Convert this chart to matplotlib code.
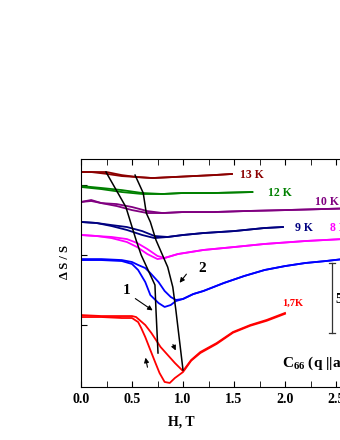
import matplotlib
matplotlib.use("Agg")
import matplotlib.pyplot as plt
from matplotlib.ticker import MultipleLocator

plt.rcParams['font.family'] = ['Liberation Serif', 'DejaVu Serif']
plt.rcParams['font.weight'] = 'bold'
plt.rcParams['mathtext.fontset'] = 'custom'
plt.rcParams['mathtext.rm'] = 'Liberation Serif:bold'
plt.rcParams['mathtext.bf'] = 'Liberation Serif:bold'

# field H (T) and dS/S (units of 1e-4, arbitrary offset), two sweeps per curve
x13 = [0, 0.1, 0.25, 0.4, 0.55, 0.7, 0.9, 1.1, 1.3, 1.48]
y13a = [15.93, 15.93, 15.93, 15.71, 15.57, 15.5, 15.57, 15.64, 15.71, 15.79]
y13b = [15.93, 15.93, 15.8, 15.64, 15.57, 15.5, 15.57, 15.64, 15.71, 15.79]

x12 = [0, 0.2, 0.4, 0.6, 0.8, 1.0, 1.3, 1.68]
y12a = [14.93, 14.79, 14.64, 14.43, 14.36, 14.43, 14.43, 14.5]
y12b = [14.86, 14.71, 14.5, 14.36, 14.36, 14.43, 14.43, 14.5]

x10 = [0, 0.1, 0.2, 0.35, 0.5, 0.65, 0.8, 1.0, 1.3, 1.6, 2.0, 2.4, 2.75]
y10a = [13.79, 13.93, 13.71, 13.5, 13.21, 13.0, 13.0, 13.07, 13.07, 13.14, 13.21, 13.29, 13.36]
y10b = [13.79, 13.86, 13.71, 13.64, 13.43, 13.14, 13.0, 13.07, 13.07, 13.14, 13.21, 13.29, 13.36]

x9 = [0, 0.15, 0.3, 0.45, 0.6, 0.72, 0.85, 1.0, 1.2, 1.5, 1.8, 1.98]
y9a = [12.36, 12.29, 12.07, 11.79, 11.43, 11.21, 11.29, 11.43, 11.57, 11.71, 11.93, 12.0]
y9b = [12.36, 12.29, 12.14, 12.0, 11.71, 11.36, 11.29, 11.43, 11.57, 11.71, 11.93, 12.0]

x8 = [0, 0.15, 0.3, 0.45, 0.55, 0.65, 0.75, 0.82, 0.95, 1.2, 1.5, 1.8, 2.2, 2.75]
y8a = [11.43, 11.36, 11.21, 10.93, 10.57, 10.07, 9.71, 9.79, 10.07, 10.36, 10.57, 10.79, 11.0, 11.21]
y8b = [11.43, 11.36, 11.29, 11.14, 10.86, 10.43, 9.93, 9.79, 10.07, 10.36, 10.57, 10.79, 11.0, 11.21]

x5 = [0, 0.2, 0.4, 0.5, 0.56, 0.63, 0.68, 0.76, 0.82, 0.88, 0.93, 1.0, 1.1, 1.2, 1.4, 1.6, 1.8, 2.0, 2.2, 2.4, 2.75]
y5a = [9.64, 9.64, 9.57, 9.36, 8.93, 8.07, 7.14, 6.57, 6.29, 6.43, 6.71, 6.86, 7.21, 7.43, 8.0, 8.5, 8.93, 9.21, 9.43, 9.57, 9.86]
y5b = [9.71, 9.71, 9.64, 9.5, 9.29, 9.07, 8.71, 8.07, 7.43, 7.0, 6.79, 6.86, 7.21, 7.43, 8.0, 8.5, 8.93, 9.21, 9.43, 9.57, 9.86]

x17a = [0, 0.2, 0.4, 0.5, 0.54, 0.63, 0.69, 0.78, 0.85, 0.92, 1.0, 1.08, 1.17, 1.33, 1.49, 1.66, 1.82, 2.0]
y17a = [5.71, 5.64, 5.64, 5.64, 5.57, 5.0, 4.43, 3.43, 2.86, 2.29, 1.71, 2.5, 3.07, 3.71, 4.5, 5.0, 5.36, 5.86]
x17b = [0, 0.2, 0.4, 0.5, 0.56, 0.59, 0.63, 0.68, 0.73, 0.77, 0.82, 0.87, 0.92, 1.0, 1.08, 1.17, 1.33, 1.49, 1.66, 1.82, 2.0]
y17b = [5.57, 5.57, 5.5, 5.5, 5.21, 4.79, 4.14, 3.21, 2.29, 1.57, 0.93, 0.86, 1.21, 1.64, 2.45, 3.0, 3.65, 4.45, 4.95, 5.3, 5.8]

# guide lines through the anomalies
line1_x = [0.245, 0.44, 0.54, 0.59, 0.725, 0.735, 0.755]
line1_y = [15.93, 13.43, 11.07, 10.0, 7.86, 6.07, 3.0]
line2_x = [0.53, 0.61, 0.64, 0.68, 0.735, 0.85, 0.90, 0.93, 1.0]
line2_y = [15.71, 14.43, 13.0, 12.36, 11.07, 9.14, 7.71, 6.07, 1.79]

curves = [
    (x13, y13a, x13, y13b, '#8b0000', '13 K', 1.56, 15.71),
    (x12, y12a, x12, y12b, '#008000', '12 K', 1.83, 14.43),
    (x10, y10a, x10, y10b, '#800080', '10 K', 2.29, 13.79),
    (x9, y9a, x9, y9b, '#000080', '9 K', 2.10, 11.93),
    (x8, y8a, x8, y8b, '#ff00ff', '8 K', 2.44, 11.93),
    (x5, y5a, x5, y5b, '#0000ff', None, 0, 0),
    (x17a, y17a, x17b, y17b, '#ff0000', '1,7K', 1.97, 6.57),
]

fig = plt.figure(figsize=(3.4, 4.4), dpi=100)
ax = fig.add_axes([81 / 340, 53 / 440, 280.5 / 340, 228 / 440])

for xa, ya, xb, yb, col, lab, lx, ly in curves:
    ax.plot(xa, ya, color=col, lw=1.3)
    ax.plot(xb, yb, color=col, lw=1.3)
    if lab:
        fs = 7.5 if lab == '1,7K' else 8.5
        ax.text(lx, ly, lab, color=col, fontsize=fs, fontweight='bold', va='center', ha='left')

ax.plot(line1_x, line1_y, color='black', lw=1.1)
ax.plot(line2_x, line2_y, color='black', lw=1.1)

# annotations 1 and 2
ax.text(0.45, 7.5, '1', fontsize=11, fontweight='bold', ha='center', va='center')
ax.annotate('', xy=(0.725, 5.93), xytext=(0.51, 7.0),
            arrowprops=dict(arrowstyle='-|>', color='black', lw=0.8, mutation_scale=7))
ax.text(1.19, 9.07, '2', fontsize=11, fontweight='bold', ha='center', va='center')
ax.annotate('', xy=(0.95, 7.86), xytext=(1.05, 8.79),
            arrowprops=dict(arrowstyle='-|>', color='black', lw=0.8, mutation_scale=7))

# sweep direction arrows
ax.annotate('', xy=(0.627, 2.86), xytext=(0.657, 1.79),
            arrowprops=dict(arrowstyle='-|>', color='black', lw=0.8, mutation_scale=7))
ax.annotate('', xy=(0.94, 3.0), xytext=(0.89, 3.79),
            arrowprops=dict(arrowstyle='-|>', color='black', lw=0.8, mutation_scale=7))

# scale bar
ax.plot([2.46, 2.46], [4.43, 9.43], color='#333333', lw=0.9)
ax.plot([2.43, 2.49], [9.43, 9.43], color='#333333', lw=0.9)
ax.plot([2.43, 2.49], [4.43, 4.43], color='#333333', lw=0.9)
ax.text(2.49, 6.9, r'5$\cdot$10$^{-4}$', fontsize=10, fontweight='bold', ha='left', va='center')

ax.text(1.97, 2.29, r'$\mathbf{C_{66}}$ (q ||a)', fontsize=11, fontweight='bold', ha='left', va='center')

ax.set_xlim(0, 2.75)
ax.set_ylim(0.571, 16.86)
ax.xaxis.set_major_locator(MultipleLocator(0.5))
ax.xaxis.set_minor_locator(MultipleLocator(0.25))
ax.yaxis.set_major_locator(MultipleLocator(5))
ax.set_yticklabels([])
ax.set_xticklabels(['%.1f' % v for v in ax.get_xticks()])
ax.tick_params(which='both', direction='in', top=True, right=True, labelsize=10, pad=4)
ax.tick_params(which='major', length=4)
ax.tick_params(which='minor', length=4)
for lbl in ax.get_xticklabels():
    lbl.set_fontweight('bold')

ax.set_xlabel('H, T', fontsize=10, fontweight='bold')
ax.xaxis.set_label_coords(0.357, -0.125)
ax.set_ylabel('Δ S / S', fontsize=9, fontweight='bold')
ax.yaxis.set_label_coords(-0.035, 0.548)

fig.savefig('out.png', dpi=100)
